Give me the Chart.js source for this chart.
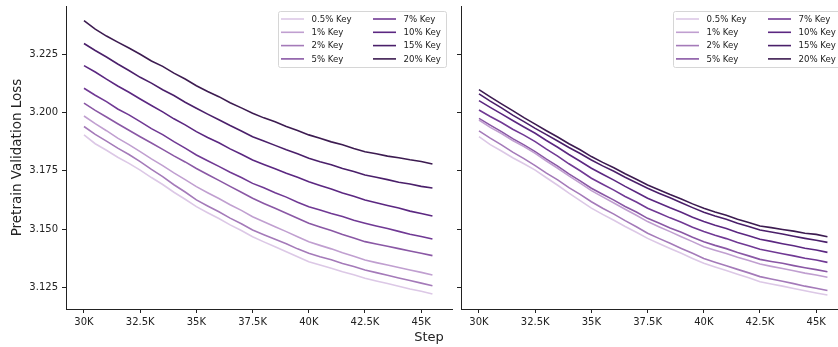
<!DOCTYPE html>
<html>
<head>
<meta charset="utf-8">
<script src="https://cdn.jsdelivr.net/npm/chart.js@4.4.0/dist/chart.umd.min.js"></script>
<style>
  html, body { margin: 0; padding: 0; width: 838px; height: 347px; overflow: hidden; background: #fff; }
  #left { position: absolute; left: 0; top: 0; }
  #right { position: absolute; left: 400px; top: 0; }
</style>
</head>
<body>
<canvas id="left" width="460" height="347"></canvas>
<canvas id="right" width="460" height="347"></canvas>
<script>
// x positions (training step)
const steps = [30000, 30500, 31000, 31500, 32000, 32500, 33000, 33500, 34000, 34500, 35000, 35500,
  36000, 36500, 37000, 37500, 38000, 38500, 39000, 39500, 40000, 40500, 41000, 41500,
  42000, 42500, 43000, 43500, 44000, 44500, 45000, 45500];
const keyLabels = ["0.5% Key", "1% Key", "2% Key", "5% Key", "7% Key", "10% Key", "15% Key", "20% Key"];
const xTicks = [30000, 32500, 35000, 37500, 40000, 42500, 45000];
const xTickLabels = ["30K", "32.5K", "35K", "37.5K", "40K", "42.5K", "45K"];
const yTicks = [3.125, 3.15, 3.175, 3.2, 3.225];
const yTickLabels = ["3.125", "3.150", "3.175", "3.200", "3.225"];

// left panel
const left05 = [3.1904, 3.1866, 3.1838, 3.1808, 3.1782, 3.1753, 3.1721, 3.1691, 3.1658, 3.1628, 3.1596, 3.1570, 3.1545, 3.1518, 3.1494, 3.1467, 3.1445, 3.1424, 3.1403, 3.1381, 3.1360, 3.1346, 3.1332, 3.1317, 3.1304, 3.1289, 3.1277, 3.1266, 3.1255, 3.1243, 3.1233, 3.1221];
const left1 = [3.1985, 3.1952, 3.1922, 3.1890, 3.1862, 3.1832, 3.1801, 3.1772, 3.1741, 3.1712, 3.1682, 3.1656, 3.1631, 3.1604, 3.1580, 3.1553, 3.1531, 3.1510, 3.1489, 3.1467, 3.1446, 3.1430, 3.1415, 3.1398, 3.1383, 3.1367, 3.1356, 3.1346, 3.1335, 3.1324, 3.1314, 3.1303];
const left2 = [3.1940, 3.1906, 3.1877, 3.1847, 3.1820, 3.1789, 3.1756, 3.1725, 3.1690, 3.1659, 3.1625, 3.1599, 3.1574, 3.1547, 3.1523, 3.1496, 3.1476, 3.1456, 3.1437, 3.1415, 3.1396, 3.1381, 3.1368, 3.1352, 3.1339, 3.1324, 3.1313, 3.1302, 3.1290, 3.1279, 3.1268, 3.1257];
const left5 = [3.2040, 3.2009, 3.1981, 3.1952, 3.1924, 3.1896, 3.1869, 3.1842, 3.1814, 3.1788, 3.1760, 3.1734, 3.1709, 3.1683, 3.1658, 3.1632, 3.1610, 3.1589, 3.1568, 3.1546, 3.1525, 3.1509, 3.1494, 3.1477, 3.1462, 3.1446, 3.1436, 3.1426, 3.1416, 3.1406, 3.1396, 3.1386];
const left7 = [3.2104, 3.2074, 3.2047, 3.2015, 3.1990, 3.1961, 3.1931, 3.1905, 3.1875, 3.1847, 3.1818, 3.1793, 3.1769, 3.1744, 3.1721, 3.1696, 3.1677, 3.1656, 3.1637, 3.1615, 3.1596, 3.1582, 3.1567, 3.1554, 3.1538, 3.1525, 3.1513, 3.1502, 3.1490, 3.1478, 3.1468, 3.1457];
const left10 = [3.2201, 3.2174, 3.2143, 3.2114, 3.2087, 3.2058, 3.2030, 3.2003, 3.1973, 3.1947, 3.1918, 3.1893, 3.1870, 3.1844, 3.1821, 3.1796, 3.1777, 3.1759, 3.1739, 3.1722, 3.1703, 3.1687, 3.1672, 3.1655, 3.1641, 3.1625, 3.1613, 3.1601, 3.1590, 3.1577, 3.1567, 3.1556];
const left15 = [3.2296, 3.2266, 3.2238, 3.2208, 3.2180, 3.2151, 3.2126, 3.2098, 3.2073, 3.2044, 3.2018, 3.1993, 3.1969, 3.1944, 3.1921, 3.1896, 3.1878, 3.1859, 3.1840, 3.1823, 3.1804, 3.1789, 3.1776, 3.1760, 3.1747, 3.1732, 3.1722, 3.1712, 3.1701, 3.1693, 3.1683, 3.1676];
const left20 = [3.2394, 3.2358, 3.2328, 3.2302, 3.2277, 3.2250, 3.2221, 3.2198, 3.2169, 3.2144, 3.2115, 3.2090, 3.2068, 3.2042, 3.2020, 3.1997, 3.1977, 3.1960, 3.1940, 3.1923, 3.1904, 3.1890, 3.1874, 3.1862, 3.1846, 3.1832, 3.1823, 3.1813, 3.1806, 3.1797, 3.1790, 3.1779];

// right panel
const right05 = [3.1897, 3.1862, 3.1835, 3.1806, 3.1780, 3.1753, 3.1720, 3.1688, 3.1654, 3.1622, 3.1590, 3.1563, 3.1538, 3.1511, 3.1486, 3.1460, 3.1438, 3.1417, 3.1396, 3.1374, 3.1353, 3.1337, 3.1322, 3.1306, 3.1291, 3.1274, 3.1264, 3.1255, 3.1245, 3.1235, 3.1226, 3.1217];
const right1 = [3.1968, 3.1936, 3.1910, 3.1880, 3.1854, 3.1825, 3.1792, 3.1761, 3.1728, 3.1697, 3.1665, 3.1638, 3.1612, 3.1585, 3.1559, 3.1532, 3.1510, 3.1489, 3.1467, 3.1446, 3.1424, 3.1409, 3.1395, 3.1379, 3.1365, 3.1350, 3.1340, 3.1331, 3.1321, 3.1311, 3.1303, 3.1293];
const right2 = [3.1921, 3.1890, 3.1861, 3.1830, 3.1802, 3.1772, 3.1740, 3.1711, 3.1678, 3.1649, 3.1617, 3.1589, 3.1564, 3.1536, 3.1510, 3.1482, 3.1460, 3.1439, 3.1417, 3.1396, 3.1374, 3.1358, 3.1343, 3.1327, 3.1312, 3.1296, 3.1286, 3.1276, 3.1266, 3.1255, 3.1246, 3.1236];
const right5 = [3.1975, 3.1946, 3.1918, 3.1888, 3.1861, 3.1832, 3.1800, 3.1770, 3.1737, 3.1707, 3.1675, 3.1649, 3.1624, 3.1597, 3.1573, 3.1546, 3.1526, 3.1505, 3.1486, 3.1465, 3.1446, 3.1430, 3.1416, 3.1399, 3.1385, 3.1370, 3.1361, 3.1353, 3.1343, 3.1334, 3.1326, 3.1317];
const right7 = [3.2011, 3.1983, 3.1957, 3.1928, 3.1903, 3.1875, 3.1843, 3.1813, 3.1780, 3.1750, 3.1718, 3.1692, 3.1667, 3.1640, 3.1616, 3.1589, 3.1569, 3.1548, 3.1529, 3.1508, 3.1489, 3.1473, 3.1459, 3.1442, 3.1428, 3.1413, 3.1404, 3.1394, 3.1385, 3.1375, 3.1367, 3.1357];
const right10 = [3.2051, 3.2022, 3.1994, 3.1966, 3.1938, 3.1911, 3.1880, 3.1851, 3.1820, 3.1791, 3.1761, 3.1735, 3.1710, 3.1683, 3.1658, 3.1632, 3.1612, 3.1591, 3.1572, 3.1551, 3.1532, 3.1516, 3.1502, 3.1485, 3.1471, 3.1456, 3.1447, 3.1437, 3.1428, 3.1418, 3.1410, 3.1400];
const right15 = [3.2080, 3.2049, 3.2020, 3.1989, 3.1961, 3.1932, 3.1905, 3.1878, 3.1850, 3.1824, 3.1796, 3.1771, 3.1748, 3.1722, 3.1699, 3.1675, 3.1654, 3.1634, 3.1613, 3.1592, 3.1572, 3.1556, 3.1542, 3.1525, 3.1511, 3.1496, 3.1487, 3.1479, 3.1469, 3.1460, 3.1452, 3.1443];
const right20 = [3.2098, 3.2067, 3.2037, 3.2008, 3.1978, 3.1950, 3.1922, 3.1895, 3.1866, 3.1840, 3.1811, 3.1786, 3.1763, 3.1737, 3.1714, 3.1689, 3.1669, 3.1648, 3.1629, 3.1608, 3.1589, 3.1573, 3.1559, 3.1542, 3.1528, 3.1513, 3.1506, 3.1498, 3.1491, 3.1482, 3.1477, 3.1467];

const palette = ["#dcc8e6", "#c09fd0", "#a47ab9", "#8a58a5", "#703994", "#5b2781", "#4a1f6a", "#3c1b50"];
const FONT = "DejaVu Sans";
const INK = "#222";

function makeDatasets(series) {
  return series.map((vals, i) => ({
    label: keyLabels[i],
    data: vals.map((v, j) => ({ x: steps[j], y: v })),
    borderColor: palette[i],
    borderWidth: 1.6,
    pointRadius: 0,
    tension: 0,
    fill: false,
  }));
}

// legend drawn in two columns like the original
const keyLegend = {
  id: "keyLegend",
  afterDraw(chart) {
    const { ctx, chartArea } = chart;
    const w = 168, h = 56;
    const x0 = chartArea.right - 6 - w, y0 = chartArea.top + 5;
    ctx.save();
    ctx.beginPath();
    ctx.roundRect(x0 + 0.5, y0 + 0.5, w, h, 2);
    ctx.fillStyle = "rgba(255,255,255,0.8)";
    ctx.fill();
    ctx.strokeStyle = "#d6d6d6";
    ctx.lineWidth = 1;
    ctx.stroke();
    ctx.font = "8.6px " + FONT;
    ctx.textBaseline = "middle";
    chart.data.datasets.forEach((ds, i) => {
      const col = Math.floor(i / 4), row = i % 4;
      const lx = x0 + 3 + col * 92;
      const ly = y0 + 8 + row * 13.3;
      ctx.strokeStyle = ds.borderColor;
      ctx.lineWidth = 1.6;
      ctx.beginPath();
      ctx.moveTo(lx, ly);
      ctx.lineTo(lx + 23, ly);
      ctx.stroke();
      ctx.fillStyle = INK;
      ctx.fillText(ds.label, lx + 30.5, ly + 0.5);
    });
    ctx.restore();
  }
};

const stepLabel = {
  id: "stepLabel",
  afterDraw(chart) {
    const ctx = chart.ctx;
    ctx.save();
    ctx.font = "13px " + FONT;
    ctx.fillStyle = INK;
    ctx.textAlign = "center";
    ctx.textBaseline = "alphabetic";
    ctx.fillText("Step", 429, 341);
    ctx.restore();
  }
};

function xScale() {
  return {
    type: "linear",
    min: 29200,
    max: 46370,
    afterBuildTicks: (s) => { s.ticks = xTicks.map((v) => ({ value: v })); },
    afterFit: (s) => { s.height = 38; s.paddingLeft = 0; s.paddingRight = 0; },
    grid: { display: true, drawOnChartArea: false, drawTicks: true, tickLength: 4, color: INK },
    border: { display: true, color: INK, width: 1 },
    ticks: {
      padding: 3, color: INK, maxRotation: 0, autoSkip: false,
      font: { family: FONT, size: 10 },
      callback: (v, i) => xTickLabels[i],
    },
  };
}

function yScale(showLabels, width) {
  return {
    type: "linear",
    min: 3.1157,
    max: 3.2457,
    afterBuildTicks: (s) => { s.ticks = yTicks.map((v) => ({ value: v })); },
    afterFit: (s) => { s.width = width; s.paddingTop = 0; s.paddingBottom = 0; },
    grid: { display: true, drawOnChartArea: false, drawTicks: true, tickLength: 4, color: INK },
    border: { display: true, color: INK, width: 1 },
    ticks: {
      display: showLabels, padding: 4, color: INK,
      font: { family: FONT, size: 10 },
      callback: (v, i) => yTickLabels[i],
    },
    title: {
      display: showLabels,
      text: "Pretrain Validation Loss",
      color: INK,
      font: { family: FONT, size: 13.5 },
      padding: { top: 9, bottom: 0 },
    },
  };
}

function makeChart(id, series, showY, yWidth, padRight, extraPlugins) {
  return new Chart(document.getElementById(id), {
    type: "line",
    data: { datasets: makeDatasets(series) },
    options: {
      responsive: false,
      animation: false,
      layout: { padding: { left: 0, top: 6, right: padRight, bottom: 0 } },
      plugins: { legend: { display: false }, tooltip: { enabled: false } },
      scales: { x: xScale(), y: yScale(showY, yWidth) },
    },
    plugins: [keyLegend].concat(extraPlugins),
  });
}

makeChart("left", [left05, left1, left2, left5, left7, left10, left15, left20], true, 66, 8, [stepLabel]);
makeChart("right", [right05, right1, right2, right5, right7, right10, right15, right20], false, 61, 13, []);
</script>
</body>
</html>
